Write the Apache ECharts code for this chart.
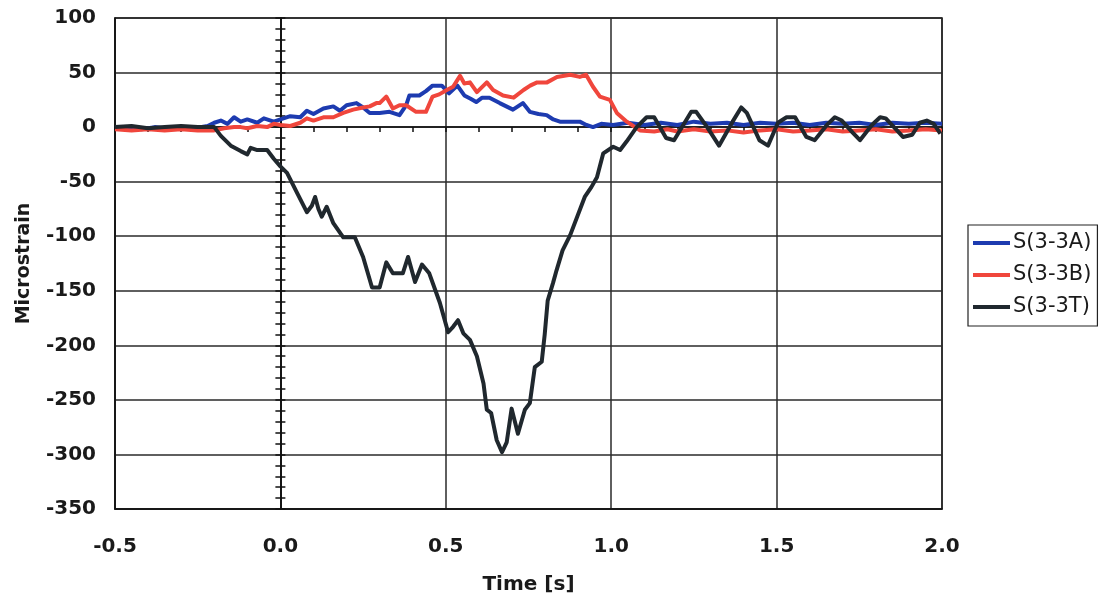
<!DOCTYPE html>
<html>
<head>
<meta charset="utf-8">
<script src="https://cdn.jsdelivr.net/npm/echarts@6/dist/echarts.min.js"></script>
<style>
html,body{margin:0;padding:0;background:#fff;}
#chart{width:1104px;height:604px;}
</style>
</head>
<body>
<div id="chart"></div>
<script>
// ---- data ----
var seriesNames = ['S(3-3A)', 'S(3-3B)', 'S(3-3T)'];

var tA = [-0.5,-0.45,-0.42,-0.38,-0.35,-0.3,-0.26,-0.22,-0.2,-0.18,-0.16,-0.14,-0.12,-0.1,-0.07,-0.05,-0.02,0.0,0.03,0.06,0.08,0.1,0.13,0.16,0.18,0.2,0.23,0.25,0.27,0.3,0.33,0.36,0.38,0.39,0.42,0.44,0.46,0.488,0.51,0.535,0.556,0.575,0.592,0.61,0.632,0.663,0.703,0.733,0.754,0.78,0.805,0.825,0.845,0.88,0.905,0.925,0.945,0.97,1.006,1.05,1.1,1.15,1.2,1.25,1.3,1.35,1.4,1.45,1.5,1.55,1.6,1.65,1.7,1.75,1.8,1.85,1.9,1.95,2.0];
var vA = [-1,0,-2,0,-1,0,-1,1,4,6,3,9,5,7,4,8,5,7,10,9,15,12,17,19,15,20,22,18,13,13,14,11,20,29,29,33,38,38,31,38,29,26,23,27,27,22,16,22,14,12,11,7,5,5,5,2,0,3,2,4,2,4,2,5,3,4,2,4,3,4,2,4,3,4,2,4,3,4,3];

var tB = [-0.5,-0.45,-0.4,-0.35,-0.3,-0.25,-0.2,-0.17,-0.14,-0.12,-0.1,-0.07,-0.04,-0.02,0.0,0.03,0.06,0.08,0.1,0.13,0.16,0.19,0.22,0.25,0.27,0.29,0.3,0.32,0.34,0.36,0.38,0.41,0.44,0.46,0.48,0.503,0.522,0.543,0.556,0.573,0.594,0.624,0.643,0.673,0.705,0.735,0.755,0.776,0.806,0.836,0.876,0.905,0.924,0.945,0.966,0.996,1.017,1.047,1.087,1.13,1.17,1.2,1.25,1.3,1.35,1.4,1.45,1.5,1.55,1.6,1.65,1.7,1.75,1.8,1.85,1.9,1.95,2.0];
var vB = [-2,-3,-2,-3,-2,-3,-3,-1,0,0,-1,1,0,3,2,1,4,8,6,9,9,13,16,18,19,22,22,28,17,20,20,14,14,28,30,34,37,47,40,41,32,41,34,29,27,34,38,41,41,46,48,46,48,37,28,25,13,5,-3,-4,-2,-4,-2,-4,-3,-5,-3,-2,-4,-3,-2,-4,-3,-2,-4,-3,-2,-3];

var tT = [-0.5,-0.45,-0.4,-0.35,-0.3,-0.25,-0.2,-0.18,-0.15,-0.12,-0.1,-0.09,-0.07,-0.04,-0.02,0.0,0.02,0.05,0.08,0.095,0.105,0.115,0.125,0.14,0.16,0.19,0.225,0.25,0.277,0.3,0.32,0.34,0.37,0.386,0.407,0.428,0.45,0.482,0.507,0.522,0.537,0.553,0.573,0.594,0.614,0.624,0.637,0.654,0.67,0.684,0.699,0.718,0.739,0.754,0.769,0.79,0.799,0.808,0.824,0.835,0.853,0.876,0.92,0.94,0.957,0.976,1.006,1.027,1.047,1.077,1.107,1.13,1.166,1.19,1.242,1.257,1.29,1.326,1.367,1.393,1.41,1.448,1.474,1.504,1.53,1.556,1.59,1.615,1.652,1.676,1.697,1.73,1.752,1.788,1.813,1.83,1.864,1.882,1.91,1.933,1.954,1.975,1.995];
var vT = [0,1,-1,0,1,0,0,-8,-17,-22,-25,-19,-21,-21,-29,-36,-42,-60,-78,-72,-64,-75,-82,-73,-88,-101,-101,-119,-147,-147,-124,-134,-134,-119,-142,-126,-134,-161,-188,-183,-177,-189,-195,-210,-235,-259,-262,-287,-298,-289,-258,-281,-259,-253,-220,-215,-190,-159,-143,-131,-113,-99,-64,-55,-46,-24,-18,-21,-13,0,9,9,-10,-12,14,14,0,-17,5,18,13,-12,-17,4,9,9,-9,-12,2,9,6,-5,-12,2,9,8,-3,-9,-7,4,6,3,-6];

var xTicks = {min: -0.5, max: 2.0, step: 0.5};
var yTicks = {min: -350, max: 100, step: 50};
var xTitle = 'Time [s]';
var yTitle = 'Microstrain';

function pairs(t, v) { return t.map(function (x, i) { return [x, v[i]]; }); }

var colors = ['#1d3bb0', '#f0463c', '#20282e'];
var font = 'DejaVu Sans';

var chart = echarts.init(document.getElementById('chart'), null, {renderer: 'canvas'});
var zeroAxisBase = {
  type: 'value',
  axisLine: {show: true, onZero: true, onZeroAxisIndex: 0, lineStyle: {color: '#111', width: 1.5}},
  axisLabel: {show: false},
  splitLine: {show: false},
  minorTick: {show: true, splitNumber: 5, length: 5, lineStyle: {color: '#111', width: 1.5}},
};
var option = {
  animation: false,
  backgroundColor: '#fff',
  color: colors,
  grid: {left: 115, right: 162, top: 18, bottom: 95, show: true, borderColor: '#111', borderWidth: 1.5, backgroundColor: 'transparent'},
  legend: {
    orient: 'vertical', left: 968, top: 225,
    data: seriesNames,
    icon: 'rect',
    itemWidth: 37, itemHeight: 4, itemGap: 10, padding: [7, 6, 8, 5],
    borderColor: '#222', borderWidth: 1.2,
    textStyle: {fontFamily: font, fontSize: 21, color: '#1a1a1a', lineHeight: 22, padding: [0, 0, 0, -2]}
  },
  xAxis: [
    {
      type: 'value', min: xTicks.min, max: xTicks.max, interval: xTicks.step,
      axisLine: {show: true, onZero: false, lineStyle: {color: '#111', width: 1.5}},
      axisTick: {show: false},
      splitLine: {show: true, lineStyle: {color: '#2a2a2a', width: 1.5}},
      axisLabel: {margin: 28, fontFamily: font, fontWeight: 'bold', fontSize: 20, color: '#1a1a1a',
        formatter: function (v) { return v.toFixed(1); }},
      name: xTitle, nameLocation: 'middle', nameGap: 66,
      nameTextStyle: {fontFamily: font, fontWeight: 'bold', fontSize: 20, color: '#1a1a1a'}
    },
    Object.assign({}, zeroAxisBase, {
      min: xTicks.min, max: xTicks.max, interval: xTicks.step, position: 'bottom',
      axisTick: {show: true, length: 5, lineStyle: {color: '#111', width: 1.5}}
    })
  ],
  yAxis: [
    {
      type: 'value', min: yTicks.min, max: yTicks.max, interval: yTicks.step,
      axisLine: {show: true, onZero: false, lineStyle: {color: '#111', width: 1.5}},
      axisTick: {show: false},
      splitLine: {show: true, lineStyle: {color: '#2a2a2a', width: 1.5}},
      axisLabel: {margin: 19, fontFamily: font, fontWeight: 'bold', fontSize: 20, color: '#1a1a1a'},
      name: yTitle, nameLocation: 'middle', nameGap: 81,
      nameTextStyle: {fontFamily: font, fontWeight: 'bold', fontSize: 19, color: '#1a1a1a'}
    },
    Object.assign({}, zeroAxisBase, {
      min: yTicks.min, max: yTicks.max, interval: yTicks.step, position: 'left',
      axisTick: {show: true, length: 5, inside: false, lineStyle: {color: '#111', width: 1.5}}
    }),
    Object.assign({}, zeroAxisBase, {
      min: yTicks.min, max: yTicks.max, interval: yTicks.step, position: 'left',
      axisTick: {show: true, length: 5, inside: true, lineStyle: {color: '#111', width: 1.5}}
    })
  ],
  series: [
    {name: seriesNames[0], type: 'line', data: pairs(tA, vA)},
    {name: seriesNames[1], type: 'line', data: pairs(tB, vB)},
    {name: seriesNames[2], type: 'line', data: pairs(tT, vT)}
  ].map(function (s, i) {
    return Object.assign(s, {
      xAxisIndex: 0, yAxisIndex: 0, symbol: 'none', showSymbol: false,
      lineStyle: {width: 4, color: colors[i], join: 'round'}, itemStyle: {color: colors[i]}, z: 3 + i
    });
  })
};
chart.setOption(option);
</script>
</body>
</html>
